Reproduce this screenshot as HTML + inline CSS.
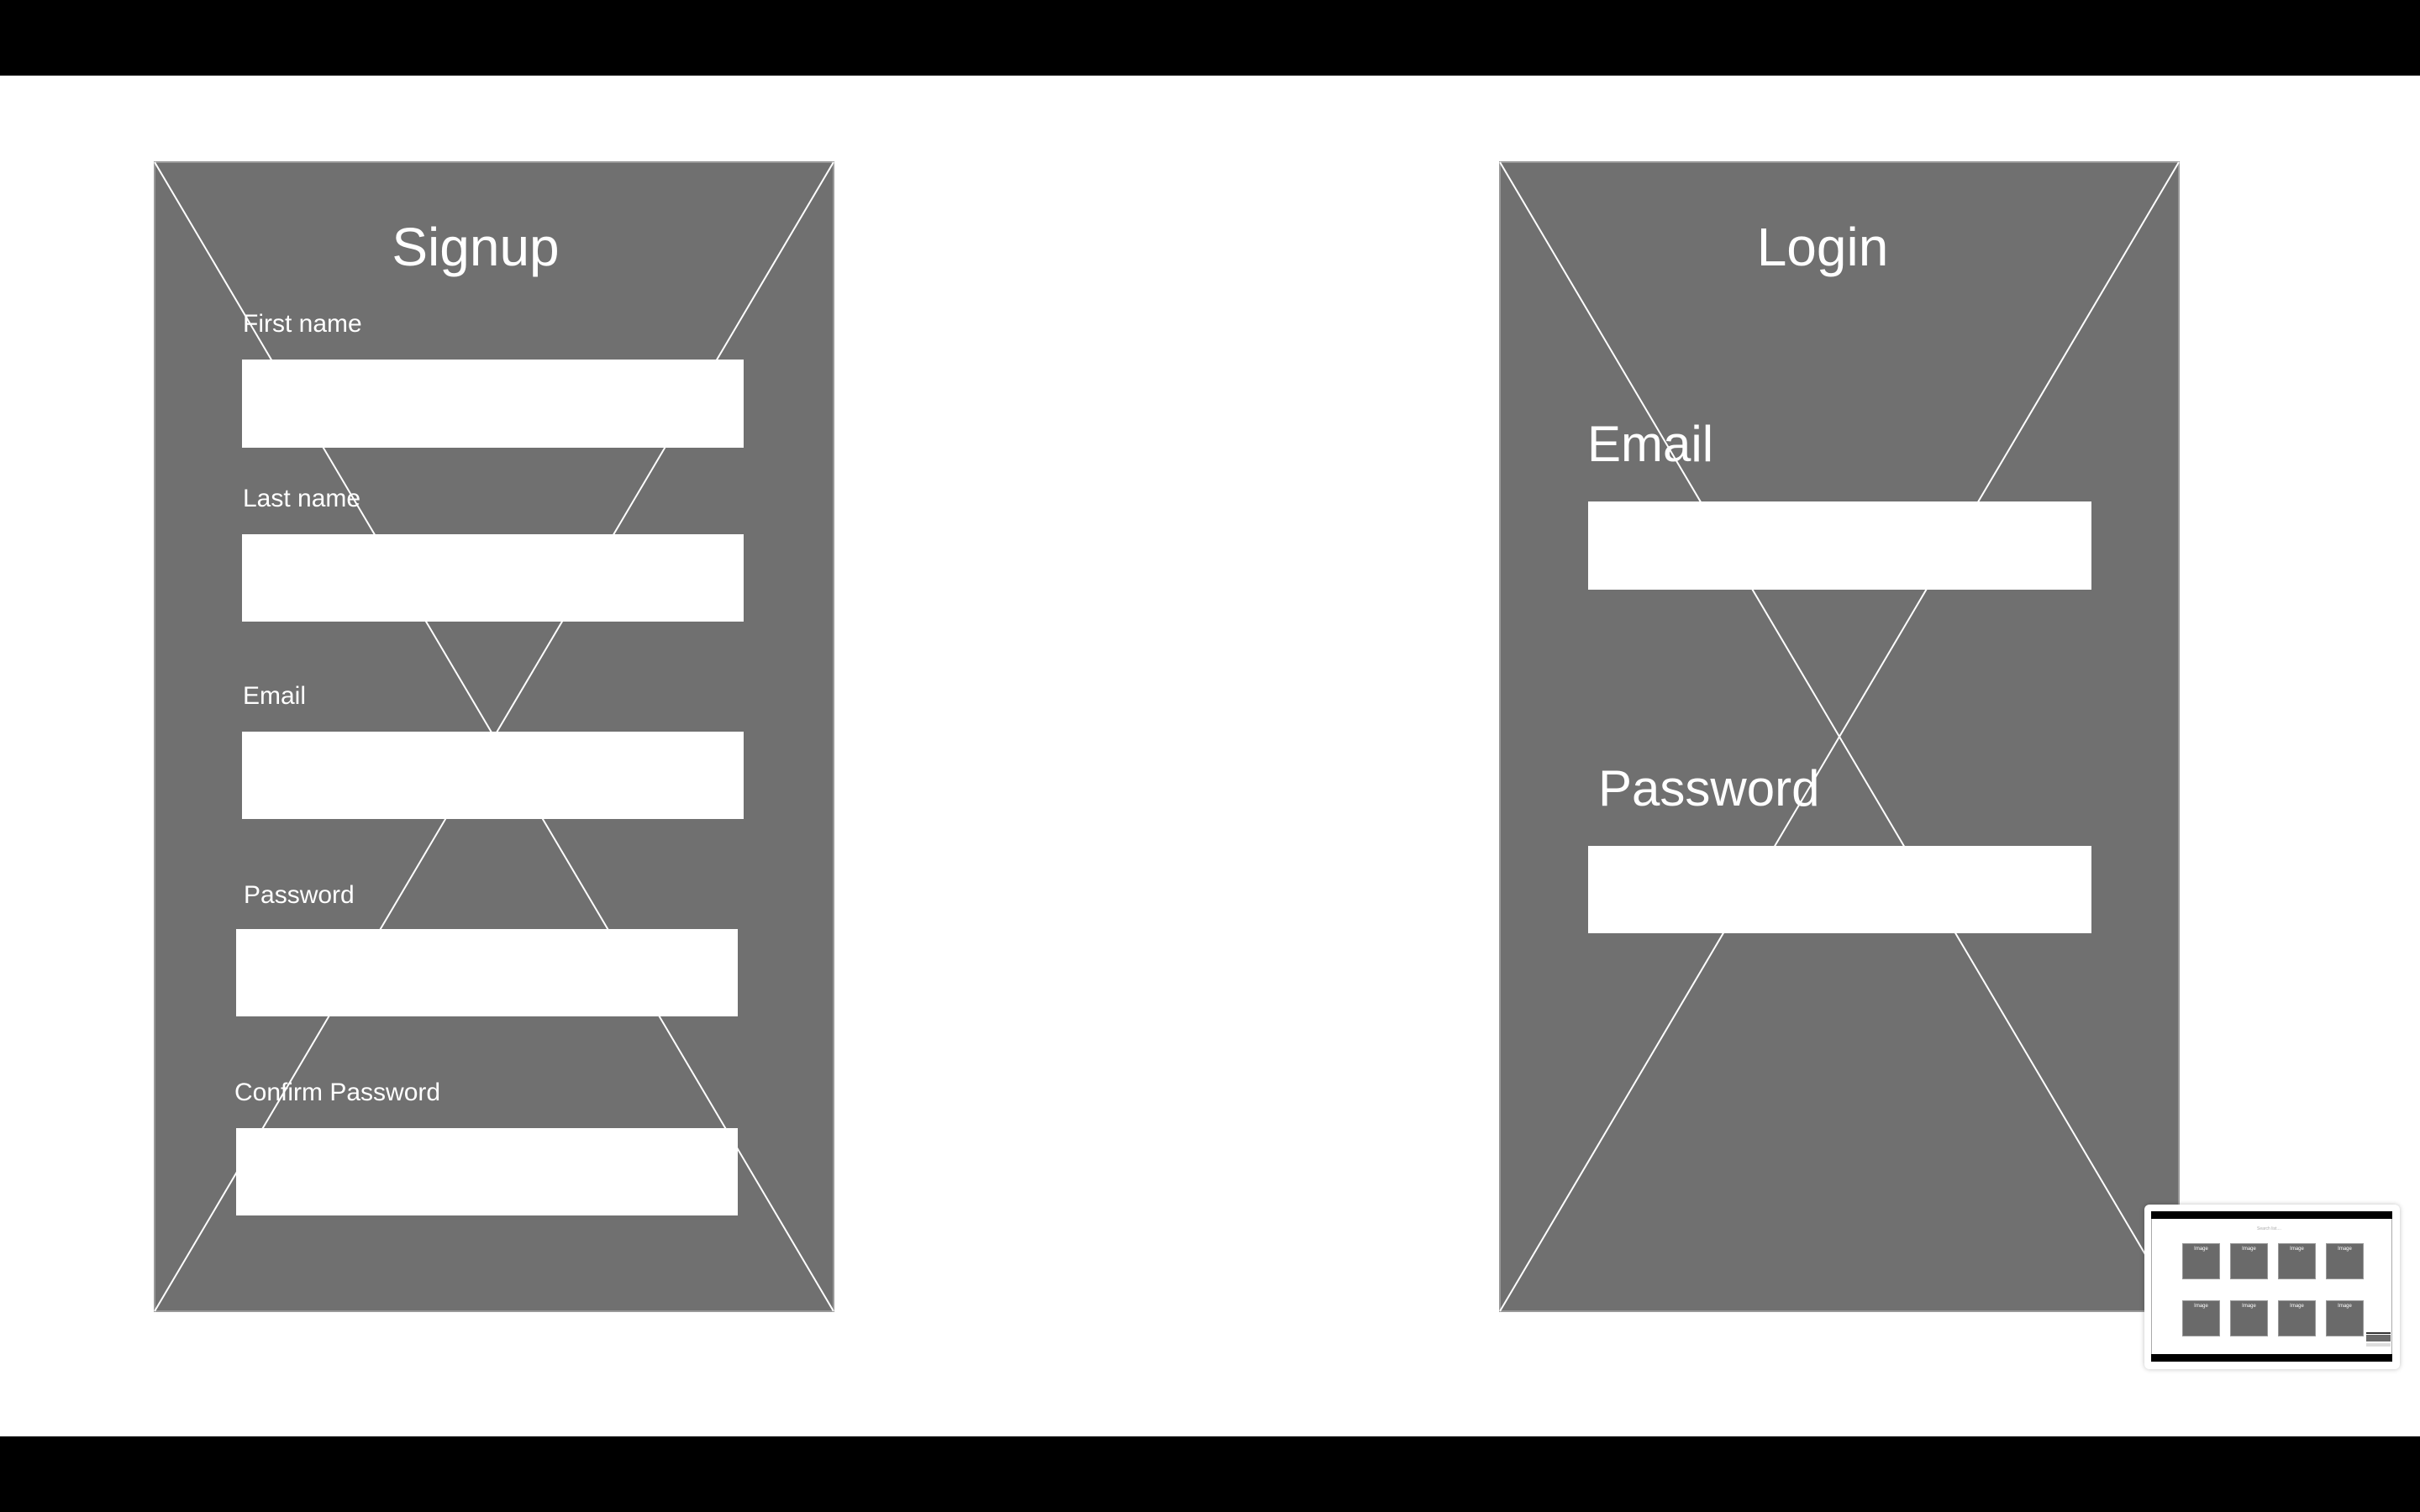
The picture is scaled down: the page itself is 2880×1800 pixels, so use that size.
<!DOCTYPE html>
<html><head><style>
body{margin:0;width:2880px;height:1800px;position:relative;background:#fff;font-family:"Liberation Sans",sans-serif;overflow:hidden}
.a{position:absolute}
.in{position:absolute;background:#fff}
.l{position:absolute;color:#fff;white-space:nowrap;line-height:1}
.im{position:absolute;width:45px;height:43px;background:#6a6a6a;border:1px solid #999;box-sizing:border-box;color:#fff;font-size:6px;text-align:center;padding-top:3px}
</style></head><body>
<div class="a" style="left:0;top:0;width:2880px;height:90px;background:#000"></div>
<div class="a" style="left:0;top:1710px;width:2880px;height:90px;background:#000"></div>
<svg class="a" style="left:0;top:0" width="2880" height="1800">
<rect x="184" y="193" width="808" height="1368" fill="#707070" stroke="#999" stroke-width="2"/>
<line x1="184" y1="193" x2="992" y2="1561" stroke="#fff" stroke-width="2"/>
<line x1="992" y1="193" x2="184" y2="1561" stroke="#fff" stroke-width="2"/>
<rect x="1785" y="193" width="808" height="1368" fill="#707070" stroke="#999" stroke-width="2"/>
<line x1="1785" y1="193" x2="2593" y2="1561" stroke="#fff" stroke-width="2"/>
<line x1="2593" y1="193" x2="1785" y2="1561" stroke="#fff" stroke-width="2"/>
</svg>
<div class="l" style="left:466px;top:262px;width:200px;text-align:center;font-size:64px">Signup</div>
<div class="l" style="left:289px;top:371px;font-size:30px">First name</div>
<div class="in" style="left:288px;top:428px;width:597px;height:105px"></div>
<div class="l" style="left:289px;top:579px;font-size:30px">Last name</div>
<div class="in" style="left:288px;top:636px;width:597px;height:104px"></div>
<div class="l" style="left:289px;top:814px;font-size:30px">Email</div>
<div class="in" style="left:288px;top:871px;width:597px;height:104px"></div>
<div class="l" style="left:290px;top:1051px;font-size:30px">Password</div>
<div class="in" style="left:281px;top:1106px;width:597px;height:104px"></div>
<div class="l" style="left:279px;top:1286px;font-size:30px">Confirm Password</div>
<div class="in" style="left:281px;top:1343px;width:597px;height:104px"></div>

<div class="l" style="left:2069px;top:262px;width:200px;text-align:center;font-size:64px">Login</div>
<div class="l" style="left:1889px;top:499px;font-size:60px">Email</div>
<div class="in" style="left:1890px;top:597px;width:599px;height:105px"></div>
<div class="l" style="left:1902px;top:909px;font-size:60px">Password</div>
<div class="in" style="left:1890px;top:1007px;width:599px;height:104px"></div>

<div class="a" style="left:2552px;top:1434px;width:304px;height:196px;background:#fff;border-radius:6px;box-shadow:0 0 6px rgba(0,0,0,.25)"></div>
<div class="a" style="left:2560px;top:1442px;width:287px;height:179px;background:#fff;border:1px solid #aaa;box-sizing:border-box"></div>
<div class="a" style="left:2560px;top:1442px;width:287px;height:9px;background:#000"></div>
<div class="a" style="left:2560px;top:1612px;width:287px;height:9px;background:#000"></div>
<div class="l" style="left:2686px;top:1461px;font-size:5px;color:#aaa">Search list....</div>
<div class="im" style="left:2597px;top:1480px">Image</div>
<div class="im" style="left:2654px;top:1480px">Image</div>
<div class="im" style="left:2711px;top:1480px">Image</div>
<div class="im" style="left:2768px;top:1480px">Image</div>
<div class="im" style="left:2597px;top:1548px">Image</div>
<div class="im" style="left:2654px;top:1548px">Image</div>
<div class="im" style="left:2711px;top:1548px">Image</div>
<div class="im" style="left:2768px;top:1548px">Image</div>
<div class="a" style="left:2816px;top:1586px;width:29px;height:2px;background:#333"></div>
<div class="a" style="left:2816px;top:1589px;width:29px;height:8px;background:#6a6a6a"></div>
<div class="a" style="left:2816px;top:1599px;width:29px;height:4px;background:#ddd"></div>
</body></html>
